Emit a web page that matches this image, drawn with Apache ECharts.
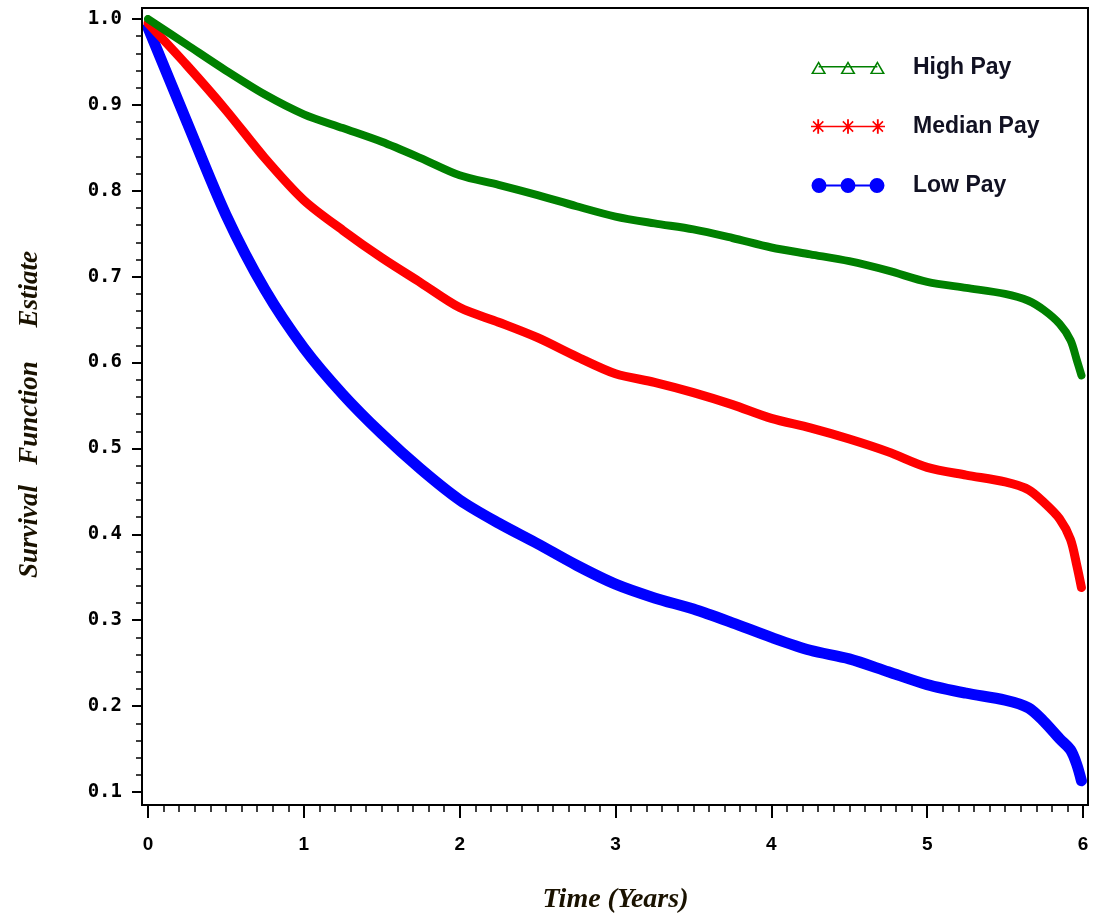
<!DOCTYPE html>
<html>
<head>
<meta charset="utf-8">
<script src="https://cdn.jsdelivr.net/npm/echarts@6/dist/echarts.min.js"></script>
<style>
html,body{margin:0;padding:0;background:#fff;overflow:hidden;}
#chart{width:1093px;height:918px;}
</style>
</head>
<body>
<div id="chart"></div>
<script>
// ---- data ----
const times = [0, 0.25, 0.5, 0.75, 1, 1.25, 1.5, 1.75, 2, 2.25, 2.5, 2.75, 3, 3.25, 3.5, 3.75, 4, 4.25, 4.5, 4.75, 5, 5.25, 5.5, 5.65, 5.75, 5.85, 5.92, 5.96, 5.99];
const highPay = [1.0, 0.970, 0.940, 0.912, 0.889, 0.873, 0.857, 0.838, 0.818, 0.807, 0.795, 0.782, 0.770, 0.762, 0.755, 0.745, 0.734, 0.726, 0.718, 0.707, 0.694, 0.687, 0.680, 0.672, 0.661, 0.645, 0.626, 0.603, 0.585];
const medianPay = [0.995, 0.946, 0.894, 0.838, 0.789, 0.754, 0.722, 0.693, 0.664, 0.647, 0.629, 0.607, 0.587, 0.577, 0.565, 0.551, 0.535, 0.524, 0.511, 0.496, 0.478, 0.469, 0.461, 0.452, 0.437, 0.418, 0.394, 0.364, 0.338];
const lowPay = [0.99, 0.880, 0.772, 0.685, 0.617, 0.563, 0.517, 0.476, 0.440, 0.413, 0.389, 0.364, 0.342, 0.326, 0.313, 0.297, 0.280, 0.265, 0.255, 0.240, 0.225, 0.215, 0.207, 0.198, 0.182, 0.162, 0.149, 0.132, 0.113];
const seriesNames = ['High Pay', 'Median Pay', 'Low Pay'];
const xTicks = [0, 1, 2, 3, 4, 5, 6];
const yTicks = [0.1, 0.2, 0.3, 0.4, 0.5, 0.6, 0.7, 0.8, 0.9, 1.0];
const xTitle = 'Time (Years)';
const yTitle = 'Survival   Function     Estiate';

// ---- legend icon paths (style only) ----
function poly(pts, positive) {
  let a = 0;
  for (let i = 0; i < pts.length; i++) {
    const p = pts[i], q = pts[(i + 1) % pts.length];
    a += p[0] * q[1] - q[0] * p[1];
  }
  if ((a > 0) !== positive) pts = pts.slice().reverse();
  return 'M' + pts.map(p => p[0].toFixed(2) + ',' + p[1].toFixed(2)).join(' L') + ' Z ';
}
function rect(x0, y0, x1, y1) { return poly([[x0, y0], [x1, y0], [x1, y1], [x0, y1]], true); }
function bar(x0, y0, x1, y1, t) {
  const dx = x1 - x0, dy = y1 - y0, l = Math.hypot(dx, dy);
  const nx = -dy / l * t / 2, ny = dx / l * t / 2;
  return poly([[x0 + nx, y0 + ny], [x1 + nx, y1 + ny], [x1 - nx, y1 - ny], [x0 - nx, y0 - ny]], true);
}
const centers = [7.5, 36.5, 65.5];
function lowIcon() {
  let p = rect(7.5, 6.5, 65.5, 8.5);
  centers.forEach(c => {
    const pts = [];
    for (let i = 0; i < 16; i++) {
      const a = i / 16 * Math.PI * 2;
      pts.push([c + 7.5 * Math.cos(a), 7.5 + 7.5 * Math.sin(a)]);
    }
    p += poly(pts, true);
  });
  return 'path://' + p;
}
function medIcon() {
  let p = rect(7.5, 6.3, 65.5, 7.7);
  centers.forEach(c => {
    p += rect(c - 0.9, 0, c + 0.9, 14);
    p += rect(c - 7, 6.2, c + 7, 7.8);
    p += bar(c - 5, 2, c + 5, 12, 1.5);
    p += bar(c - 5, 12, c + 5, 2, 1.5);
  });
  return 'path://' + p;
}
function highIcon() {
  let p = rect(7.5, 5, 65.5, 6.5);
  centers.forEach(c => {
    p += poly([[c - 7.5, 13], [c, 0], [c + 7.5, 13]], true);
    p += poly([[c - 4.9, 11.6], [c, 3.0], [c + 4.9, 11.6]], false);
  });
  return 'path://' + p;
}

const colors = ['#008000', '#ff0000', '#0000ff'];
const values = [highPay, medianPay, lowPay];
const widths = [8, 9, 11];
const icons = [highIcon(), medIcon(), lowIcon()];

const chart = echarts.init(document.getElementById('chart'), null, {renderer: 'canvas', width: 1093, height: 918});
const option = {
  animation: false,
  backgroundColor: '#ffffff',
  grid: {left: 148, top: 19, width: 935, height: 773, containLabel: false, outerBoundsMode: 'none'},
  legend: {
    orient: 'vertical',
    left: 811,
    top: 56,
    padding: 0,
    itemGap: 36,
    itemWidth: 74,
    itemHeight: 15,
    selectedMode: false,
    symbolKeepAspect: true,
    textStyle: {fontFamily: 'Liberation Sans', fontWeight: 'bold', fontSize: 23, color: '#111122', lineHeight: 22, padding: [0, 0, 0, 23]},
    data: seriesNames.map((n, i) => ({name: n, icon: icons[i], itemStyle: {color: colors[i], borderWidth: 0}}))
  },
  xAxis: {
    type: 'value', min: 0, max: 6, interval: 1, offset: 13,
    axisLine: {show: true, onZero: false, lineStyle: {color: '#000', width: 2}},
    axisTick: {show: true, inside: false, length: 13, lineStyle: {color: '#000', width: 2}},
    minorTick: {show: true, splitNumber: 10, length: 7, lineStyle: {color: '#000', width: 1.5}},
    splitLine: {show: false}, minorSplitLine: {show: false},
    axisLabel: {margin: 30, fontFamily: 'Liberation Sans', fontWeight: 'bold', fontSize: 19, color: '#000',
      formatter: v => String(xTicks[Math.round(v)])},
    name: xTitle, nameLocation: 'middle', nameGap: 81,
    nameTextStyle: {fontFamily: 'Liberation Serif', fontStyle: 'italic', fontWeight: 'bold', fontSize: 28, color: '#1a1200'}
  },
  yAxis: {
    type: 'value', min: 0.1, max: 1.0, interval: 0.1, offset: 6,
    axisLine: {show: true, onZero: false, lineStyle: {color: '#000', width: 2}},
    axisTick: {show: true, inside: false, length: 10, lineStyle: {color: '#000', width: 2}},
    minorTick: {show: true, splitNumber: 5, length: 6, lineStyle: {color: '#000', width: 1.5}},
    splitLine: {show: false}, minorSplitLine: {show: false},
    axisLabel: {margin: 20, fontFamily: 'DejaVu Sans Mono', fontWeight: 'bold', fontSize: 19, color: '#000',
      formatter: v => {
        const k = yTicks.findIndex(t => Math.abs(t - v) < 1e-6);
        return (k >= 0 ? yTicks[k] : v).toFixed(1);
      }},
    name: yTitle, nameLocation: 'middle', nameGap: 98, nameRotate: 90,
    nameTextStyle: {fontFamily: 'Liberation Serif', fontStyle: 'italic', fontWeight: 'bold', fontSize: 27, color: '#1a1200', padding: [0, 18, 0, 0]}
  },
  graphic: [{
    type: 'rect', z: 100, silent: true,
    shape: {x: 142, y: 8, width: 946, height: 797},
    style: {fill: 'none', stroke: '#000', lineWidth: 2}
  }],
  series: seriesNames.map((n, i) => ({
    name: n, type: 'line', smooth: 0.3, showSymbol: false, symbol: 'none',
    color: colors[i],
    z: 3 - i,
    lineStyle: {color: colors[i], width: widths[i], cap: 'round', join: 'round'},
    data: times.map((t, j) => [t, values[i][j]])
  }))
};
chart.setOption(option);
</script>
</body>
</html>
